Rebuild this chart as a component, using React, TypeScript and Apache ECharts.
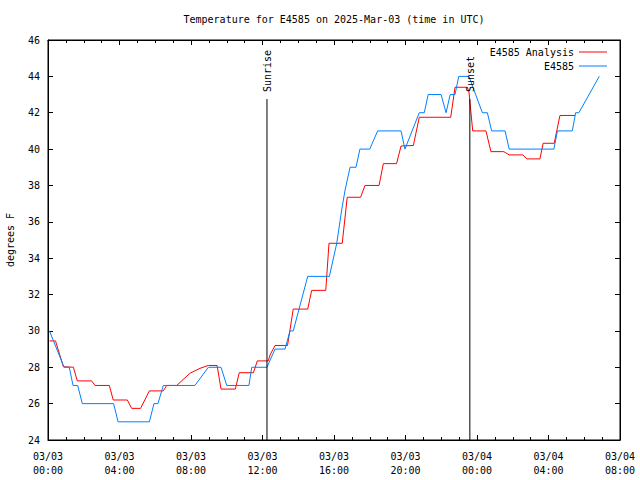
import React, { useEffect, useRef } from "react";
import * as echarts from "echarts";

// Hours since 2025-03-03 00:00 UTC
const analysisHours = [
  0.083, 0.42, 0.86, 1.42, 1.64, 2.44, 2.63, 3.43, 3.65, 4.44, 4.68, 5.18, 5.67, 6.45, 6.64, 7.2,
  7.94, 8.5, 8.97, 9.46, 9.68, 10.48, 10.7, 11.49, 11.71, 12.32, 12.42, 12.7, 13.4, 13.72,
  14.53, 14.75, 15.54, 15.72, 16.46, 16.74, 17.49, 17.73, 18.52, 18.76, 19.5, 19.75, 20.44,
  20.77, 22.53, 22.77, 23.46, 23.55, 23.76, 24.5, 24.78, 25.5, 25.8, 26.56, 26.8, 27.52, 27.7,
  28.32, 28.64, 29.48,
];
const analysisTemps = [
  29.45, 29.45, 28.03, 28.0, 27.25, 27.25, 27.0, 27.0, 26.2, 26.2, 25.74, 25.74, 26.7, 26.7, 27.0, 27.0,
  27.67, 27.94, 28.1, 28.1, 26.8, 26.8, 27.7, 27.7, 28.35, 28.35, 28.67, 29.2, 29.2, 31.2,
  31.2, 32.23, 32.23, 34.82, 34.82, 37.35, 37.35, 38.0, 38.0, 39.2, 39.2, 40.17, 40.2,
  41.75, 41.75, 43.4, 43.4, 43.15, 41.0, 41.0, 39.86, 39.86, 39.68, 39.68, 39.46, 39.46, 40.32,
  40.32, 41.85, 41.85,
];

const obsHours = [
  0.083, 0.9, 1.19, 1.4, 1.66, 1.92, 3.67, 3.92, 5.67, 5.93, 6.15, 6.45, 8.22, 8.97, 9.68, 10.0,
  11.24, 11.4, 12.25, 12.7, 13.26, 13.54, 13.72, 14.53, 15.74, 16.15, 16.43, 16.62, 16.9, 17.23,
  17.45, 18.0, 18.44, 19.75, 19.97, 20.77, 21.05, 21.27, 21.99, 22.27, 22.5, 22.77, 22.98, 23.55,
  24.3, 24.58, 24.82, 25.57, 25.8, 28.3, 28.5, 29.33, 29.52, 29.7, 30.84,
];
const obsTemps = [
  30.0, 28.0, 28.0, 27.0, 27.0, 26.0, 26.0, 25.0, 25.0, 26.0, 26.0, 27.0, 27.0, 28.0, 28.0, 27.0,
  27.0, 28.0, 28.0, 29.0, 29.0, 30.0, 30.0, 33.0, 33.0, 34.8, 36.65, 37.75, 39.0, 39.0,
  40.0, 40.0, 41.0, 41.0, 40.0, 42.0, 42.0, 43.0, 43.0, 42.0, 43.0, 43.0, 44.0, 44.0,
  42.0, 42.0, 41.0, 41.0, 40.0, 40.0, 41.0, 41.0, 42.0, 42.0, 44.0,
];

const sunEvents = [
  { name: "Sunrise", hour: 12.25 },
  { name: "Sunset", hour: 23.6 },
];
const sunLineTopValue = 42.75;

const xMin = 0;
const xMax = 32;
const xStep = 4;
const yMin = 24;
const yMax = 46;
const yStep = 2;

const titleText = "Temperature for E4585 on 2025-Mar-03 (time in UTC)";
const seriesNames = ["E4585 Analysis", "E4585"];
const seriesColors = ["#ff0000", "#0080ff"];

const FONT = '"DejaVu Sans Mono", "Liberation Mono", monospace';

function xLabel(v: number): string {
  const d = Math.floor(v / 24);
  const hh = v - d * 24;
  return `03/${String(3 + d).padStart(2, "0")}\n${String(hh).padStart(2, "0")}:00`;
}

export default function App() {
  const ref = useRef<HTMLDivElement>(null);
  useEffect(() => {
    document.body.style.margin = "0";
    if (!ref.current) return;
    const chart = echarts.init(ref.current, undefined, { renderer: "svg" });
    const zip = (a: number[], b: number[]) => a.map((h, i) => [h, b[i]]);
    const tickCommon = {
      axisLine: { show: true, onZero: false, lineStyle: { color: "#000", width: 1 } },
      splitLine: { show: false },
    };
    chart.setOption({
      animation: false,
      backgroundColor: "#fff",
      grid: {
        left: 48,
        right: 20,
        top: 40,
        bottom: 40,
        containLabel: false,
        outerBoundsMode: "none",
        show: true,
        borderColor: "#000",
        borderWidth: 1,
        backgroundColor: "transparent",
      },
      legend: [
        {
          data: [seriesNames[0]],
          right: 28,
          top: 42,
          align: "right",
          icon: "rect",
          itemWidth: 28,
          itemHeight: 1,
          textStyle: { fontFamily: FONT, fontSize: 10, color: "#000" },
        },
        {
          data: [seriesNames[1]],
          right: 28,
          top: 56,
          align: "right",
          icon: "rect",
          itemWidth: 28,
          itemHeight: 1,
          textStyle: { fontFamily: FONT, fontSize: 10, color: "#000" },
        },
      ],
      xAxis: [
        {
          type: "value",
          min: xMin,
          max: xMax,
          interval: xStep,
          position: "bottom",
          ...tickCommon,
          axisTick: { show: true, inside: true, length: 5, lineStyle: { color: "#000" } },
          minorTick: { show: true, splitNumber: 4, length: 3, lineStyle: { color: "#000" } },
          axisLabel: {
            formatter: xLabel,
            fontFamily: FONT,
            fontSize: 10,
            color: "#000",
            lineHeight: 14,
            margin: 9,
          },
        },
        {
          type: "value",
          min: xMin,
          max: xMax,
          interval: xStep,
          position: "top",
          ...tickCommon,
          axisTick: { show: true, inside: true, length: 5, lineStyle: { color: "#000" } },
          minorTick: { show: true, splitNumber: 4, length: 3, lineStyle: { color: "#000" } },
          axisLabel: { show: false },
        },
      ],
      yAxis: [
        {
          type: "value",
          min: yMin,
          max: yMax,
          interval: yStep,
          position: "left",
          name: "degrees F",
          nameLocation: "middle",
          nameGap: 33,
          nameTextStyle: { fontFamily: FONT, fontSize: 10, color: "#000" },
          ...tickCommon,
          axisTick: { show: true, inside: true, length: 5, lineStyle: { color: "#000" } },
          axisLabel: { fontFamily: FONT, fontSize: 10, color: "#000", margin: 8 },
        },
        {
          type: "value",
          min: yMin,
          max: yMax,
          interval: yStep,
          position: "right",
          ...tickCommon,
          axisTick: { show: true, inside: true, length: 5, lineStyle: { color: "#000" } },
          axisLabel: { show: false },
        },
      ],
      series: [
        {
          name: seriesNames[0],
          type: "line",
          data: zip(analysisHours, analysisTemps),
          symbol: "none",
          color: seriesColors[0],
          lineStyle: { width: 1, color: seriesColors[0] },
          xAxisIndex: 0,
          yAxisIndex: 0,
        },
        {
          name: seriesNames[1],
          type: "line",
          data: zip(obsHours, obsTemps),
          symbol: "none",
          color: seriesColors[1],
          lineStyle: { width: 1, color: seriesColors[1] },
          xAxisIndex: 0,
          yAxisIndex: 0,
        },
      ],
    });

    const graphics: any[] = [
      {
        type: "text",
        x: 334,
        y: 19,
        style: {
          text: titleText,
          font: `10px ${FONT}`,
          fill: "#000",
          align: "center",
          verticalAlign: "middle",
        },
      },
    ];
    sunEvents.forEach((e) => {
      const [x, yb] = chart.convertToPixel({ seriesIndex: 0 }, [e.hour, yMin]) as number[];
      const [, yt] = chart.convertToPixel({ seriesIndex: 0 }, [e.hour, sunLineTopValue]) as number[];
      graphics.push({
        type: "line",
        shape: { x1: x, y1: yt, x2: x, y2: yb },
        style: { stroke: "#000", lineWidth: 1 },
        z: 10,
      });
      graphics.push({
        type: "text",
        x: x + 1,
        y: yt - 7,
        rotation: Math.PI / 2,
        style: {
          text: e.name,
          font: `10px ${FONT}`,
          fill: "#000",
          align: "left",
          verticalAlign: "middle",
        },
        z: 10,
      });
    });
    chart.setOption({ graphic: graphics });

    return () => chart.dispose();
  }, []);
  return <div ref={ref} style={{ width: 640, height: 480 }} />;
}
